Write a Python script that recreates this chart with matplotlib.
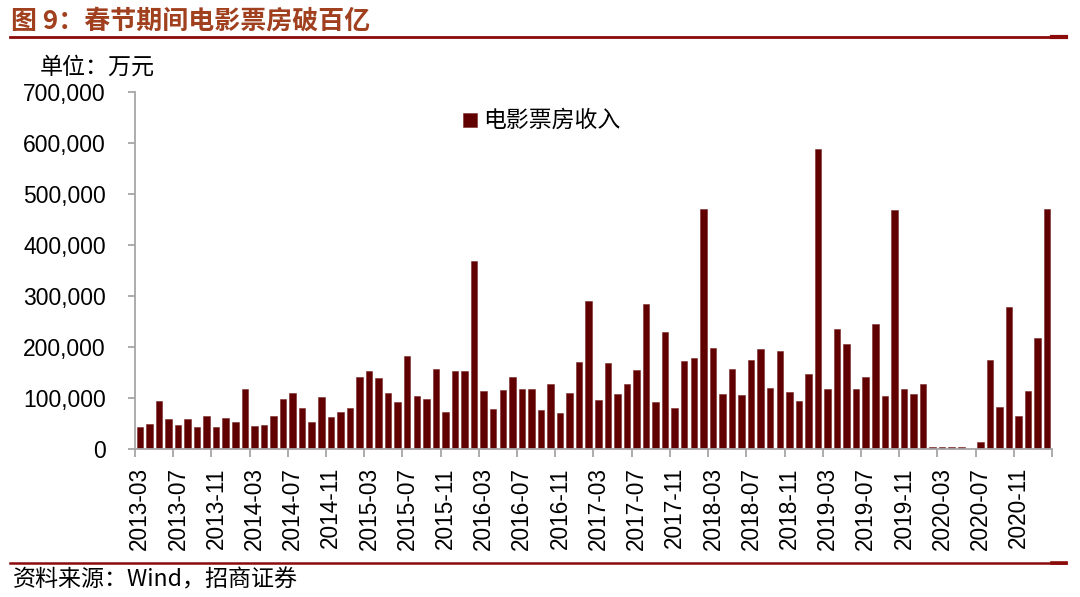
import matplotlib
matplotlib.use("Agg")
import matplotlib.pyplot as plt
from matplotlib.lines import Line2D
from matplotlib.patches import Rectangle
from matplotlib.ticker import FuncFormatter, FixedLocator

# ---------------- data ----------------
tick_labels = ["2013-03", "2013-07", "2013-11", "2014-03", "2014-07", "2014-11",
               "2015-03", "2015-07", "2015-11", "2016-03", "2016-07", "2016-11",
               "2017-03", "2017-07", "2017-11", "2018-03", "2018-07", "2018-11",
               "2019-03", "2019-07", "2019-11", "2020-03", "2020-07", "2020-11"]

box_office = [43000, 50000, 95000, 58000, 47000, 58000, 43000, 65000, 44000, 61000,
              52000, 118000, 46000, 48000, 65000, 99000, 109000, 81000, 52000, 101000,
              63000, 73000, 81000, 142000, 153000, 139000, 109000, 93000, 182000, 103000,
              99000, 157000, 73000, 153000, 152000, 368000, 114000, 78000, 115000, 142000,
              118000, 118000, 76000, 127000, 71000, 109000, 171000, 291000, 97000, 169000,
              108000, 127000, 154000, 284000, 93000, 229000, 81000, 173000, 178000, 471000,
              199000, 108000, 156000, 105000, 175000, 197000, 120000, 192000, 112000, 95000,
              148000, 588000, 118000, 235000, 205000, 117000, 142000, 246000, 103000, 468000,
              117000, 108000, 128000, 3000, 3000, 3000, 3000, 0, 13000, 175000,
              83000, 278000, 65000, 113000, 217000, 471000]

series_name = "电影票房收入"
title_text = "图 9：春节期间电影票房破百亿"
unit_text = "单位：万元"
source_text = "资料来源：Wind，招商证券"

# ---------------- figure ----------------
W, H = 1080, 597
fig = plt.figure(figsize=(W / 100, H / 100), dpi=100)
ax = fig.add_axes([135 / W, 1 - 449 / H, (1052 - 135) / W, (449 - 92) / H])

cjk = ["Noto Sans CJK SC", "DejaVu Sans"]
num_font = ["Liberation Sans", "DejaVu Sans"]
bar_color = "#600000"
axis_gray = "#A6A6A6"
red_line = "#8B0A0A"

x = list(range(len(box_office)))
ax.bar(x, box_office, width=0.68, color=bar_color, edgecolor="#7a2a2a",
       linewidth=0.4, label=series_name, zorder=2)

ax.set_xlim(-0.5, len(box_office) - 0.5)
ax.set_ylim(0, 700000)
ax.set_yticks(range(0, 700001, 100000))
ax.yaxis.set_major_formatter(FuncFormatter(lambda v, p: f"{int(v):,}"))

for s in ["top", "right"]:
    ax.spines[s].set_visible(False)
for s in ["left", "bottom"]:
    ax.spines[s].set_color(axis_gray)
    ax.spines[s].set_linewidth(1.3)

ax.tick_params(axis="y", direction="out", length=5, width=1.3, color=axis_gray,
               pad=16, labelsize=16.5)
for lab in ax.get_yticklabels():
    lab.set_family(num_font)

# x labels at category centres, tick marks at category boundaries
major_pos = list(range(0, len(box_office), 4))[:len(tick_labels)]
ax.xaxis.set_major_locator(FixedLocator(major_pos))
ax.set_xticklabels(tick_labels, rotation=90, family=num_font, fontsize=16.3)
ax.tick_params(axis="x", which="major", length=0, pad=13)
minor_pos = [i - 0.5 for i in range(0, len(box_office) + 1, 4)]
ax.xaxis.set_minor_locator(FixedLocator(minor_pos))
ax.tick_params(axis="x", which="minor", direction="out", length=6, width=1.3,
               color=axis_gray)

# legend (drawn in figure pixel positions)
fig.add_artist(Rectangle((463 / W, 1 - 127 / H), 14 / W, 14 / H,
                         transform=fig.transFigure, facecolor=bar_color,
                         edgecolor="#7a2a2a", linewidth=0.4))
fig.text(483 / W, 1 - 120 / H, series_name, family=cjk, fontsize=16.5,
         color="black", va="center", ha="left")

# header / footer
fig.text(11 / W, 1 - 21 / H, title_text, family=cjk, fontsize=18.7,
         fontweight="bold", color="#A0401E", va="center", ha="left")
fig.add_artist(Line2D([10 / W, 1066 / W], [1 - 36.5 / H] * 2, color=red_line,
                      lw=2.0, transform=fig.transFigure))
fig.add_artist(Line2D([1052 / W, 1066 / W], [1 - 37 / H] * 2, color=red_line,
                      lw=3.0, transform=fig.transFigure))

fig.text(40 / W, 1 - 67 / H, unit_text, family=cjk, fontsize=16.6,
         color="black", va="center", ha="left")

fig.add_artist(Line2D([10 / W, 1066 / W], [1 - 562.8 / H] * 2, color=red_line,
                      lw=1.8, transform=fig.transFigure))
fig.add_artist(Line2D([1052 / W, 1066 / W], [1 - 563.3 / H] * 2, color=red_line,
                      lw=2.6, transform=fig.transFigure))
fig.text(13 / W, 1 - 580 / H, source_text, family=cjk, fontsize=16.6,
         color="black", va="center", ha="left")

fig.savefig("out.png", dpi=100)
